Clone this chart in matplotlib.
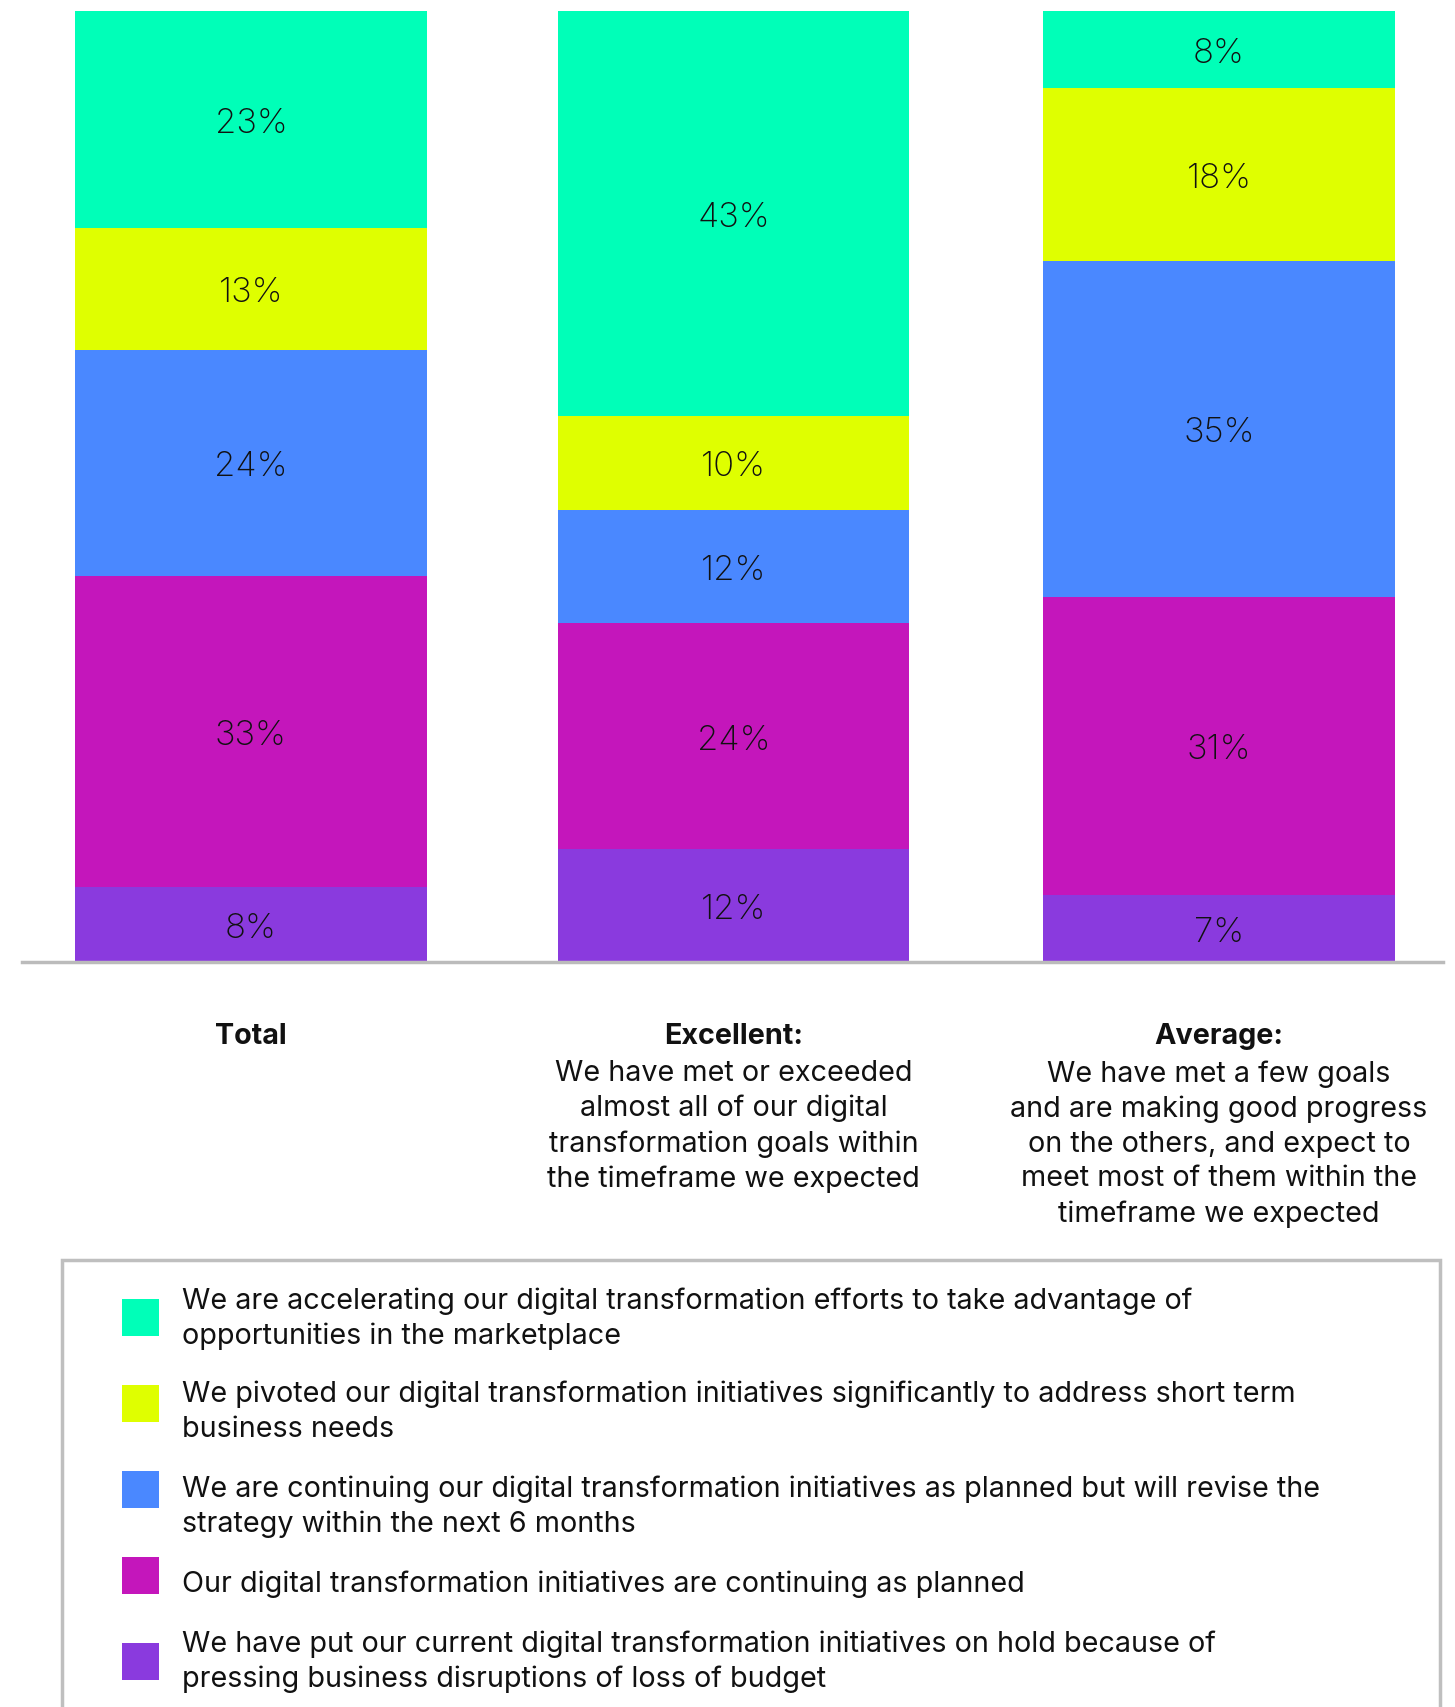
import numpy as np
import matplotlib.pyplot as plt
from matplotlib.patches import Rectangle
from matplotlib.transforms import blended_transform_factory

plt.rcParams['font.family'] = ['Inter', 'DejaVu Sans']

groups = ["Total", "Excellent:", "Average:"]
group_notes = [
    "",
    "We have met or exceeded\nalmost all of our digital\ntransformation goals within\nthe timeframe we expected",
    "We have met a few goals\nand are making good progress\non the others, and expect to\nmeet most of them within the\ntimeframe we expected",
]

# responses, listed bottom of the stack first
responses = [
    "We have put our current digital transformation initiatives on hold because of\npressing business disruptions of loss of budget",
    "Our digital transformation initiatives are continuing as planned",
    "We are continuing our digital transformation initiatives as planned but will revise the\nstrategy within the next 6 months",
    "We pivoted our digital transformation initiatives significantly to address short term\nbusiness needs",
    "We are accelerating our digital transformation efforts to take advantage of\nopportunities in the marketplace",
]
on_hold = [8, 12, 7]
as_planned = [33, 24, 31]
will_revise = [24, 12, 35]
pivoted = [13, 10, 18]
accelerating = [23, 43, 8]

colors = ["#8a3ade", "#c416bb", "#4a88ff", "#dfff00", "#00ffb8"]

values = np.array([on_hold, as_planned, will_revise, pivoted, accelerating], dtype=float)
shares = values / values.sum(axis=0) * 100  # each column filled to 100%

W, H = 1455, 1708
fig = plt.figure(figsize=(W / 100, H / 100), dpi=100)
ax = fig.add_axes([22 / W, 1 - 963 / H, (1443 - 22) / W, (963 - 12) / H])

x = np.array([0, 0.997, 2])
bottom = np.zeros(len(groups))
for row, lab_vals, color in zip(shares, values, colors):
    ax.bar(x, row, width=0.727, bottom=bottom, color=color, linewidth=0)
    for xi, b, h, v in zip(x, bottom, row, lab_vals):
        ax.text(xi, b + h / 2, f"{int(v)}%", ha='center', va='center_baseline',
                fontsize=25, fontweight='light', color='#111111')
    bottom += row

ax.set_xlim(-0.473, 2.463)
ax.set_ylim(0, 100)
for s in ["top", "right", "left"]:
    ax.spines[s].set_visible(False)
ax.spines["bottom"].set_color("#bbbbbb")
ax.spines["bottom"].set_linewidth(2.5)
ax.set_xticks([])
ax.set_yticks([])

# group captions under the bars
trans = blended_transform_factory(ax.transData, fig.transFigure)
for xi, name, note in zip(x, groups, group_notes):
    ax.text(xi, 1 - 1037 / H, name, transform=trans, ha='center', va='center',
            fontsize=20.7, fontweight='bold', color='#111111')
    if note:
        ax.text(xi, 1 - 1060 / H, note, transform=trans, ha='center', va='top',
                fontsize=20.7, color='#111111', linespacing=1.37)

# legend box, running off the bottom edge
fig.patches.append(Rectangle((62 / W, -0.05), (1440 - 62) / W, 0.05 + (1708 - 1261) / H,
                             transform=fig.transFigure, fill=False,
                             edgecolor="#bfbfbf", linewidth=2.5))
swatch_y = [1663, 1577, 1491, 1405, 1319]
text_y = [1662, 1584, 1507, 1412, 1319]
for label, color, ys, yt in zip(responses, colors, swatch_y, text_y):
    fig.patches.append(Rectangle((122 / W, 1 - (ys + 18) / H), 37 / W, 37 / H,
                                 transform=fig.transFigure, color=color, linewidth=0))
    fig.text(182 / W, 1 - yt / H, label, ha='left', va='center',
             fontsize=20.7, color='#111111', linespacing=1.37)

fig.savefig("out.png", dpi=100)
